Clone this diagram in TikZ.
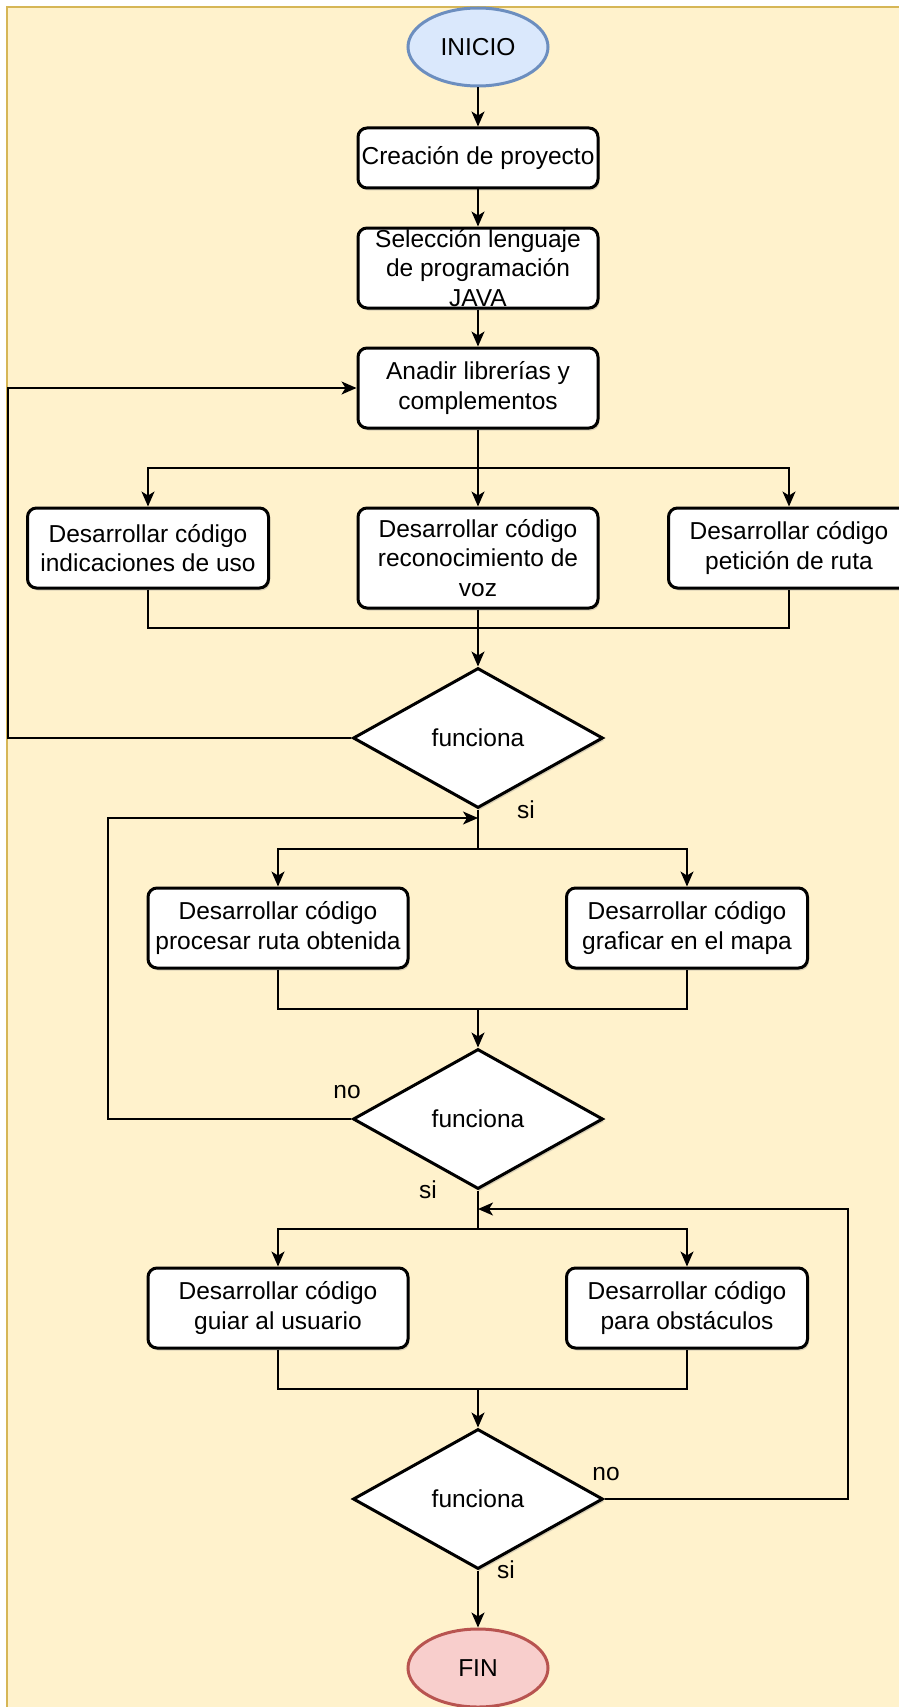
\documentclass[tikz,border=0pt]{standalone}
\usepackage{fontspec}
\setmainfont{Liberation Sans}
\usepackage{tikz}
\usetikzlibrary{shapes.geometric,arrows.meta,shadows}
\definecolor{cream}{HTML}{FFF2CC}
\definecolor{creamline}{HTML}{D6B656}
\definecolor{sky}{HTML}{DAE8FC}
\definecolor{skyline}{HTML}{6C8EBF}
\definecolor{rose}{HTML}{F8CECC}
\definecolor{roseline}{HTML}{B85450}

\begin{document}
\begin{tikzpicture}[x=1pt,y=-1pt,line width=1.5pt,
  font=\fontsize{24.5}{29.5}\selectfont,
  >={Stealth[length=15pt,width=13pt,inset=4pt]},
  proc/.style={draw,line width=3pt,rounded corners=9pt,fill=white,align=center,inner sep=0pt,
    minimum width=240pt,minimum height=80pt,
    drop shadow={shadow xshift=1.5pt,shadow yshift=-2.5pt,opacity=0.3}},
  decision/.style={diamond,draw,line width=3pt,fill=white,inner sep=0pt,
    minimum width=250pt,minimum height=140pt,
    drop shadow={shadow xshift=1.5pt,shadow yshift=-2.5pt,opacity=0.3}},
  term/.style={ellipse,draw,line width=3pt,inner sep=0pt,minimum width=140pt,minimum height=78pt},
  lbl/.style={anchor=base,inner sep=0pt}]
\useasboundingbox (0,0) rectangle (898,1707);
\draw[fill=cream,draw=creamline,line width=2pt] (7,7) rectangle (912,1722);

\node[term,fill=sky,draw=skyline] (inicio) at (478,47) {INICIO};
\node[proc,minimum height=60pt] (crea) at (478,158) {Creación de proyecto};
\node[proc] (lang) at (478,268) {Selección lenguaje\\de programación\\JAVA};
\node[proc] (lib) at (478,388) {Anadir librerías y\\complementos};
\node[proc,minimum width=241pt] (uso) at (148,548) {Desarrollar código\\indicaciones de uso};
\node[proc,minimum height=100pt] (voz) at (478,558) {Desarrollar código\\reconocimiento de\\voz};
\node[proc,minimum width=241pt] (ruta) at (789,548) {Desarrollar código\\petición de ruta};
\node[decision] (d1) at (478,738) {funciona};
\node[proc,minimum width=260pt] (obt) at (278,928) {Desarrollar código\\procesar ruta obtenida};
\node[proc,minimum width=241pt] (mapa) at (687,928) {Desarrollar código\\graficar en el mapa};
\node[decision] (d2) at (478,1119) {funciona};
\node[proc,minimum width=260pt] (guia) at (278,1308) {Desarrollar código\\guiar al usuario};
\node[proc,minimum width=241pt] (obst) at (687,1308) {Desarrollar código\\para obstáculos};
\node[decision] (d3) at (478,1499) {funciona};
\node[term,fill=rose,draw=roseline] (fin) at (478,1668) {FIN};

\node[lbl] (si1) at (526,818) {si};
\node[lbl] (no2) at (347,1098) {no};
\node[lbl] (si2) at (428,1198) {si};
\node[lbl] (no3) at (606,1480) {no};
\node[lbl] (si3) at (506,1578) {si};

\coordinate (s1) at (478,468);
\coordinate (m1) at (478,628);
\coordinate (j2) at (478,818);
\coordinate (s2) at (478,849);
\coordinate (m2) at (478,1009);
\coordinate (j3) at (478,1209);
\coordinate (s3) at (478,1229);
\coordinate (m3) at (478,1389);
\coordinate (r1) at (8,738);
\coordinate (r2) at (108,1119);
\coordinate (r3) at (848,1499);

\draw[->] (inicio) -- (crea);
\draw[->] (crea) -- (lang);
\draw[->] (lang) -- (lib);
\draw (lib) -- (s1);
\draw[->] (s1) -| (uso);
\draw[->] (s1) -- (voz);
\draw[->] (s1) -| (ruta);
\draw (uso) |- (m1) -| (ruta);
\draw (voz) -- (m1);
\draw[->] (m1) -- (d1);
\draw[->] (d1) -- (r1) |- (lib);
\draw (d1) -- (s2);
\draw[->] (d2) -- (r2) |- (j2);
\draw[->] (s2) -| (obt);
\draw[->] (s2) -| (mapa);
\draw (obt) |- (m2) -| (mapa);
\draw[->] (m2) -- (d2);
\draw (d2) -- (s3);
\draw[->] (d3) -- (r3) |- (j3);
\draw[->] (s3) -| (guia);
\draw[->] (s3) -| (obst);
\draw (guia) |- (m3) -| (obst);
\draw[->] (m3) -- (d3);
\draw[->] (d3) -- (fin);
\end{tikzpicture}
\end{document}
